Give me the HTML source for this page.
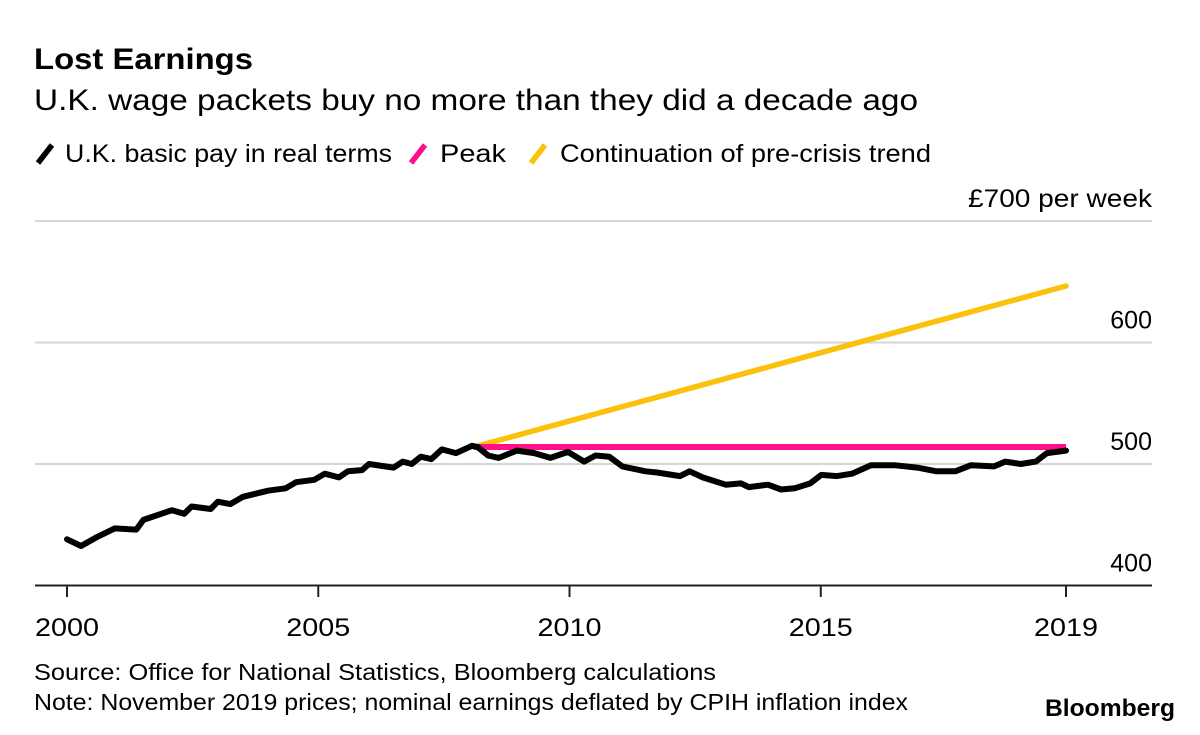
<!DOCTYPE html>
<html><head><meta charset="utf-8"><style>
html,body{margin:0;padding:0;background:#fff;}
body{width:1200px;height:730px;overflow:hidden;font-family:"Liberation Sans",sans-serif;}
svg text{font-family:"Liberation Sans",sans-serif;fill:#000;}
</style></head><body>
<svg id="chart" width="1200" height="730">
<text x="34" y="69" font-size="30" font-weight="bold" textLength="219" lengthAdjust="spacingAndGlyphs">Lost Earnings</text>
<text x="34" y="110" font-size="30" textLength="884" lengthAdjust="spacingAndGlyphs">U.K. wage packets buy no more than they did a decade ago</text>
<g>
<g><line x1="38" y1="163" x2="52" y2="145" stroke="#000" stroke-width="5.5"/><text x="65" y="162" font-size="25" textLength="327" lengthAdjust="spacingAndGlyphs">U.K. basic pay in real terms</text></g>
<g><line x1="411" y1="163" x2="425" y2="145" stroke="#ff0f8a" stroke-width="5.5"/><text x="440" y="162" font-size="25" textLength="66" lengthAdjust="spacingAndGlyphs">Peak</text></g>
<g><line x1="531" y1="163" x2="545" y2="145" stroke="#fcc10c" stroke-width="5.5"/><text x="560" y="162" font-size="25" textLength="371" lengthAdjust="spacingAndGlyphs">Continuation of pre-crisis trend</text></g>
</g>
<g id="grid"></g><g id="series"></g><g id="axes"></g>
<text x="34" y="680" font-size="23" textLength="682" lengthAdjust="spacingAndGlyphs">Source: Office for National Statistics, Bloomberg calculations</text>
<text x="34" y="710" font-size="23" textLength="874" lengthAdjust="spacingAndGlyphs">Note: November 2019 prices; nominal earnings deflated by CPIH inflation index</text>
<text x="1175" y="716" font-size="24" font-weight="bold" text-anchor="end" textLength="130" lengthAdjust="spacingAndGlyphs">Bloomberg</text>
</svg>
<script>
const payYears=[2000.0,2000.28,2000.6,2000.95,2001.38,2001.52,2002.09,2002.33,2002.48,2002.86,2003.0,2003.25,2003.5,2004.0,2004.35,2004.56,2004.92,2005.13,2005.41,2005.59,2005.87,2006.01,2006.33,2006.5,2006.68,2006.86,2007.04,2007.25,2007.46,2007.74,2008.06,2008.17,2008.38,2008.59,2008.95,2009.3,2009.62,2009.97,2010.29,2010.52,2010.79,2011.05,2011.51,2011.74,2012.2,2012.39,2012.65,2013.11,2013.41,2013.57,2013.95,2014.21,2014.48,2014.79,2015.01,2015.32,2015.62,2016.0,2016.46,2016.92,2017.3,2017.68,2017.99,2018.45,2018.67,2018.98,2019.28,2019.5,2019.88];
const payValues=[438,432.5,440,447,446,454,462,459,465,463,469,467,473,478,480,485,487,492,489,494,495,500,498,497,502,500,506,504,512,509,515,514,507,505,511,509,505,510,502,507,506,498,494,493,490,494,489,483,484,481,483,479,480,484,491,490,492,499,499,497,494,494,499,498,502,500,502,509,511];
const peakYears=[2008.1,2019.88];
const peakValues=[514,514];
const trendYears=[2008.1,2019.88];
const trendValues=[514,646.5];
const yTicks=[400,500,600,700];
const yTickLabels=["400","500","600","£700 per week"];
const xTicks=[2000,2005,2010,2015,2019.88];
const xTickLabels=["2000","2005","2010","2015","2019"];

const X0=67,X1=1066,YR0=2000,YR1=2019.88;
const x=v=>X0+(v-YR0)*(X1-X0)/(YR1-YR0);
const y=v=>585.5-(v-400)*1.215;
const NS="http://www.w3.org/2000/svg";
function mk(tag,attrs,parent){const e=document.createElementNS(NS,tag);for(const k in attrs)e.setAttribute(k,attrs[k]);document.getElementById(parent).appendChild(e);return e;}

yTicks.forEach((t,i)=>{
  if(t>400){const g=mk('line',{x1:35,x2:1152,y1:y(t),y2:y(t),stroke:'#d6d6d6','stroke-width':2},'grid');
  
  }
  const attrs={x:1152,y:y(t)-14,'font-size':25,'text-anchor':'end'};
  if(t===700){attrs.textLength=184;attrs.lengthAdjust='spacingAndGlyphs';}
  const tx=mk('text',attrs,'axes');
  tx.textContent=yTickLabels[i];
  
  
});
const ax=mk('line',{x1:35,x2:1152,y1:585.5,y2:585.5,stroke:'#222','stroke-width':2},'axes');


xTicks.forEach((t,i)=>{
  const tk=mk('line',{x1:x(t),x2:x(t),y1:585,y2:597,stroke:'#222','stroke-width':2},'axes');
  
  
  const tx=mk('text',{x:x(t),y:636,'font-size':25,'text-anchor':'middle',textLength:64,lengthAdjust:'spacingAndGlyphs'},'axes');
  tx.textContent=xTickLabels[i];
  
  
});
function path(xs,vs){return xs.map((t,i)=>(i?'L':'M')+x(t).toFixed(1)+' '+y(vs[i]).toFixed(1)).join(' ');}
const tr=mk('path',{d:path(trendYears,trendValues),stroke:'#fcc10c','stroke-width':5.5,fill:'none','stroke-linecap':'round'},'series');


const pk=mk('path',{d:path(peakYears,peakValues),stroke:'#ff0f8a','stroke-width':6,fill:'none'},'series');


const pl=mk('path',{d:path(payYears,payValues),stroke:'#000','stroke-width':6,fill:'none','stroke-linejoin':'round','stroke-linecap':'round'},'series');


</script>
</body></html>
